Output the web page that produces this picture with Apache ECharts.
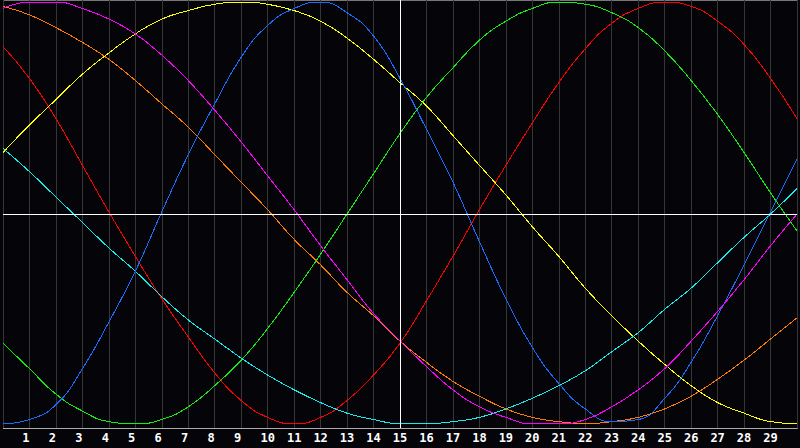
<!DOCTYPE html>
<html>
<head>
<meta charset="utf-8">
<script src="https://cdn.jsdelivr.net/npm/echarts@6/dist/echarts.min.js"></script>
<style>
  html, body { margin: 0; padding: 0; background: #050409; }
  #chart { width: 800px; height: 448px; }
  /* the original is drawn without anti-aliasing */
  #chart svg path { shape-rendering: crispEdges; }
</style>
</head>
<body>
<div id="chart"></div>
<script>
// x positions 0..30, only 1..29 get a label
var categories = ['', '1', '2', '3', '4', '5', '6', '7', '8', '9', '10', '11', '12', '13', '14', '15',
  '16', '17', '18', '19', '20', '21', '22', '23', '24', '25', '26', '27', '28', '29', ''];

var red = [79, 64, 45, 23, 1, -20, -40, -58, -75, -88, -96, -99, -96, -88, -76, -61,
  -41, -20, 2, 23, 43, 62, 78, 90, 97, 100, 98, 91, 80, 64, 45];
var orange = [98, 94, 88, 81, 73, 63, 52, 41, 28, 15, 2, -12, -24, -37, -48, -60,
  -70, -79, -86, -92, -96, -98, -99, -98, -96, -92, -86, -78, -69, -59, -49];
var yellow = [29, 42, 54, 66, 76, 85, 92, 96, 99, 100, 99, 96, 91, 83, 73, 62,
  51, 37, 23, 9, -6, -20, -35, -48, -60, -71, -81, -89, -94, -98, -99];
var green = [-61, -73, -85, -93, -98, -99, -97, -91, -81, -69, -54, -37, -19, 0, 19, 38,
  55, 69, 82, 91, 97, 100, 99, 95, 88, 77, 63, 47, 29, 10, -8];
var cyan = [31, 20, 8, -4, -16, -27, -39, -50, -59, -68, -76, -83, -89, -94, -97, -99,
  -99, -98, -96, -92, -87, -81, -74, -65, -56, -45, -35, -23, -11, 0, 12];
var blue = [-99, -97, -90, -73, -51, -27, 1, 28, 52, 74, 89, 97, 100, 95, 84, 64,
  40, 15, -13, -40, -63, -80, -92, -98, -97, -87, -70, -48, -24, 1, 26];
var magenta = [97, 100, 100, 97, 92, 85, 75, 63, 49, 34, 18, 2, -15, -31, -47, -60,
  -72, -83, -91, -96, -99, -99, -97, -91, -83, -73, -60, -46, -31, -15, 0];

var chart = echarts.init(document.getElementById('chart'), null, { renderer: 'svg' });

function curve(name, color, data) {
  return {
    name: name,
    type: 'line',
    data: data,
    smooth: true,
    showSymbol: false,
    silent: true,
    lineStyle: { color: color, width: 1 },
    itemStyle: { color: color }
  };
}

var series = [
  curve('red', '#ff0000', red),
  curve('orange', '#ff7a00', orange),
  curve('yellow', '#ffff00', yellow),
  curve('green', '#11ee11', green),
  curve('cyan', '#11eeee', cyan),
  curve('blue', '#1a6cff', blue),
  curve('magenta', '#ff00ff', magenta)
];
// white cross at x=15 / y=0
series[0].markLine = {
  silent: true,
  symbol: ['none', 'none'],
  label: { show: false },
  lineStyle: { color: '#ffffff', type: 'solid', width: 1 },
  data: [{ xAxis: '15' }, { yAxis: 0 }]
};

chart.setOption({
  animation: false,
  backgroundColor: '#050409',
  grid: {
    left: 0, right: 1, top: 0, bottom: 20,
    show: true, borderColor: '#777', borderWidth: 1
  },
  xAxis: {
    type: 'category',
    data: categories,
    boundaryGap: false,
    axisLine: { onZero: false, lineStyle: { color: '#aaa', width: 1 } },
    axisTick: { show: false },
    axisLabel: {
      interval: 0,
      color: '#fff',
      fontFamily: 'DejaVu Sans Mono',
      fontWeight: 'bold',
      fontSize: 12,
      margin: 4,
      // single digits sit a bit left of their line
      formatter: function (v) { return v.length === 1 ? v + ' ' : v; }
    },
    splitLine: { show: true, interval: 0, lineStyle: { color: '#363636', width: 1 } }
  },
  yAxis: {
    type: 'value',
    min: -101,
    max: 101,
    axisLine: { show: false },
    axisTick: { show: false },
    axisLabel: { show: false },
    splitLine: { show: false }
  },
  series: series
});
</script>
</body>
</html>
